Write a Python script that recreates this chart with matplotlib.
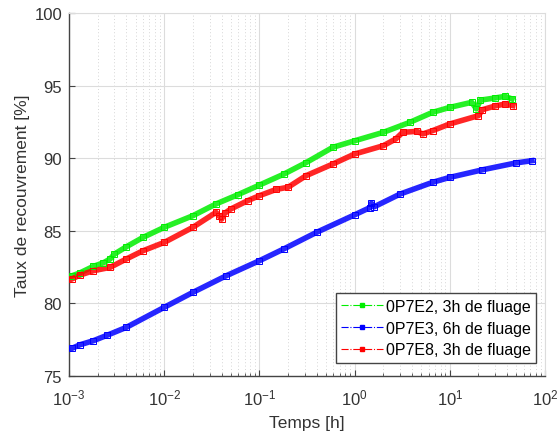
import matplotlib
matplotlib.use("Agg")
import matplotlib.pyplot as plt
from matplotlib.lines import Line2D
from matplotlib.ticker import LogLocator, NullFormatter

plt.rcParams['font.family'] = ['Liberation Sans', 'DejaVu Sans']
plt.rcParams['mathtext.fontset'] = 'custom'
plt.rcParams['mathtext.rm'] = 'Liberation Sans'
plt.rcParams['mathtext.it'] = 'Liberation Sans'

# ---- data ----
t_e2 = [1.07e-3, 1.3e-3, 1.8e-3, 2.3e-3, 2.7e-3, 3.0e-3, 4e-3, 6e-3, 1e-2, 2e-2,
        3.5e-2, 6e-2, 0.1, 0.18, 0.31, 0.59, 1.0, 2.0, 3.8, 6.6, 10, 17, 19, 21,
        30, 38, 45]
v_e2 = [81.9, 82.1, 82.55, 82.8, 83.06, 83.4, 83.9, 84.55, 85.24, 86.04,
        86.85, 87.5, 88.15, 88.9, 89.7, 90.75, 91.2, 91.78, 92.47, 93.16, 93.5, 93.85, 93.4, 94.0,
        94.15, 94.26, 94.08]

t_e3 = [1.07e-3, 1.3e-3, 1.8e-3, 2.5e-3, 4e-3, 1e-2, 2e-2, 4.5e-2, 0.1, 0.18,
        0.4, 1.0, 1.45, 1.5, 1.6, 3.0, 6.6, 10, 22, 49, 73]
v_e3 = [76.9, 77.15, 77.43, 77.8, 78.35, 79.73, 80.76, 81.91, 82.94, 83.75,
        84.9, 86.1, 86.6, 86.9, 86.65, 87.53, 88.34, 88.68, 89.2, 89.67, 89.83]

t_e8 = [1.07e-3, 1.3e-3, 1.8e-3, 2.7e-3, 4e-3, 6e-3, 1e-2, 2e-2, 3.5e-2, 3.8e-2,
        4.0e-2, 4.3e-2, 5e-2, 7.5e-2, 0.1, 0.15, 0.2, 0.31, 0.59, 1.0, 2.0, 2.7,
        3.2, 4.5, 5.2, 6.6, 10, 20, 22, 30, 38, 46]
v_e8 = [81.68, 81.95, 82.25, 82.48, 83.06, 83.63, 84.2, 85.24, 86.27, 86.0,
        85.8, 86.2, 86.5, 87.07, 87.42, 87.85, 88.0, 88.8, 89.6, 90.29, 90.86, 91.32,
        91.78, 91.85, 91.67, 91.9, 92.36, 92.93, 93.34, 93.6, 93.73, 93.62]

labels = ['0P7E2, 3h de fluage', '0P7E3, 6h de fluage', '0P7E8, 3h de fluage']
colors = ['#00ee00', '#0000ff', '#ff0000']
xlabel = 'Temps [h]'
ylabel = 'Taux de recouvrement [%]'

fig = plt.figure(figsize=(5.58, 4.35), dpi=100)
ax = fig.add_axes([0.1237, 0.1333, 0.853, 0.8345])

series = [(t_e2, v_e2), (t_e3, v_e3), (t_e8, v_e8)]
for (t, v), c in zip(series, colors):
    ax.plot(t, v, '-', color=c, lw=4, alpha=0.85, zorder=3)
    ax.plot(t, v, 's', color=c, ms=3.8, mfc='none', mew=0.7, zorder=4)

ax.set_xscale('log')
ax.set_xlim(1e-3, 1e2)
ax.set_ylim(75, 100)
ax.set_yticks([75, 80, 85, 90, 95, 100])
ax.xaxis.set_minor_locator(LogLocator(base=10, subs=range(2, 10), numticks=20))
ax.xaxis.set_minor_formatter(NullFormatter())

ax.grid(True, which='major', color='#dcdcdc', lw=0.8)
ax.grid(True, which='minor', axis='x', color='#c8c8c8', lw=0.6, ls=(0, (1, 3)))
ax.set_axisbelow(True)

for s in ['left', 'bottom']:
    ax.spines[s].set_color('#444444')
    ax.spines[s].set_linewidth(1.0)
for s in ['top', 'right']:
    ax.spines[s].set_color('#dcdcdc')
    ax.spines[s].set_linewidth(0.8)

ax.tick_params(which='both', direction='in', colors='#444444', labelcolor='#333333',
               labelsize=12)
ax.tick_params(which='major', length=4)
ax.tick_params(which='minor', length=2)
ax.tick_params(axis='x', which='major', pad=8)
ax.tick_params(axis='y', which='major', pad=5)

ax.set_xlabel(xlabel, fontsize=12.5, color='#333333', labelpad=6)
ax.set_ylabel(ylabel, fontsize=12.5, color='#333333', labelpad=3)

handles = [Line2D([0], [0], color=c, ls='-.', lw=0.8, marker='s', ms=3.5,
                  mfc=c, mec=c) for c in colors]
leg = ax.legend(handles, labels, loc='lower right', fontsize=11.5, fancybox=False,
                framealpha=1, edgecolor='#444444', borderpad=0.35, labelspacing=0.42,
                handlelength=2.6, handletextpad=0.2, borderaxespad=0,
                bbox_to_anchor=(0.982, 0.036))
leg.get_frame().set_linewidth(1.0)

fig.savefig('out.png', dpi=100)
